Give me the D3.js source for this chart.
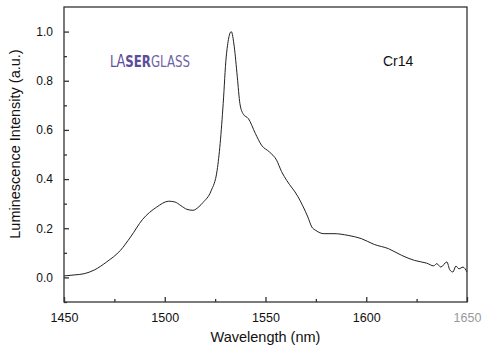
<!DOCTYPE html>
<html><head><meta charset="utf-8">
<script src="https://cdn.jsdelivr.net/npm/d3@7"></script>
<style>body{margin:0;background:#fff}</style>
</head><body>
<svg id="c" width="498" height="357"></svg>
<script>
const wavelength = [1450,1455,1460,1465,1471,1478,1483,1489,1496,1502,1505,1508,1511,1514,1517,1519,1523,1526,1527.5,1529,1530.5,1533,1534.5,1536,1537.3,1539,1541.5,1545,1548,1552,1555.5,1558,1560.5,1566,1571,1573,1575,1579,1584,1591,1597.5,1604,1611,1617.5,1624,1630,1633.5,1635,1637,1640,1641.5,1643,1644.5,1646,1648,1650];
const intensity = [0.006,0.010,0.015,0.030,0.062,0.110,0.164,0.236,0.286,0.310,0.307,0.292,0.277,0.273,0.288,0.305,0.352,0.436,0.545,0.707,0.897,1.000,0.938,0.816,0.707,0.664,0.646,0.585,0.538,0.510,0.477,0.430,0.395,0.330,0.246,0.205,0.191,0.178,0.178,0.171,0.158,0.134,0.117,0.090,0.069,0.058,0.047,0.056,0.042,0.063,0.030,0.022,0.046,0.035,0.042,0.022];
const xTicks = [1450,1500,1550,1600,1650];
const yTicks = [0.0,0.2,0.4,0.6,0.8,1.0];
const xMinor = [1475,1525,1575,1625];
const yMinor = [-0.1,0.1,0.3,0.5,0.7,0.9];

const svg = d3.select("#c");
const L=64,T=7,R=467,B=302;
const x = d3.scaleLinear().domain([1450,1650]).range([L,R]);
const y = d3.scaleLinear().domain([-0.1,1.1]).range([B,T]);
const font = "Arial, 'Liberation Sans', sans-serif";
const axc = "#333";

// data line
svg.append("path")
  .datum(wavelength.map((w,i)=>[w,intensity[i]]))
  .attr("fill","none").attr("stroke","#222").attr("stroke-width",1)
  .attr("d", d3.line().x(d=>x(d[0])).y(d=>y(d[1])).curve(d3.curveMonotoneX));

// frame
svg.append("rect").attr("x",L).attr("y",T).attr("width",R-L).attr("height",B-T)
  .attr("fill","none").attr("stroke",axc).attr("stroke-width",1.3);

// x axis
const gx = svg.append("g").attr("transform",`translate(0,${B})`)
  .call(d3.axisBottom(x).tickValues(xTicks).tickSizeInner(-5).tickSizeOuter(0).tickPadding(11).tickFormat(d3.format("d")));
gx.select(".domain").remove();
gx.selectAll("line").attr("stroke",axc).attr("stroke-width",1.3);
gx.selectAll("text").attr("font-family",font).attr("font-size",12.5)
  .attr("fill",d=>d===1650?"#999":"#111");
const gx2 = svg.append("g").attr("transform",`translate(0,${B})`)
  .call(d3.axisBottom(x).tickValues(xMinor).tickSizeInner(-3).tickSizeOuter(0).tickFormat(""));
gx2.select(".domain").remove();
gx2.selectAll("line").attr("stroke",axc).attr("stroke-width",1.3);

// y axis
const gy = svg.append("g").attr("transform",`translate(${L},0)`)
  .call(d3.axisLeft(y).tickValues(yTicks).tickSizeInner(-5).tickSizeOuter(0).tickPadding(11).tickFormat(d3.format(".1f")));
gy.select(".domain").remove();
gy.selectAll("line").attr("stroke",axc).attr("stroke-width",1.3);
gy.selectAll("text").attr("font-family",font).attr("font-size",12).attr("fill","#111");
const gy2 = svg.append("g").attr("transform",`translate(${L},0)`)
  .call(d3.axisLeft(y).tickValues(yMinor).tickSizeInner(-3).tickSizeOuter(0).tickFormat(""));
gy2.select(".domain").remove();
gy2.selectAll("line").attr("stroke",axc).attr("stroke-width",1.3);

// titles
svg.append("text").attr("x",265.5).attr("y",342).attr("text-anchor","middle")
  .attr("font-family",font).attr("font-size",14.5).attr("fill","#111").text("Wavelength (nm)");
svg.append("text").attr("transform","translate(20,144) rotate(-90)").attr("text-anchor","middle")
  .attr("font-family",font).attr("font-size",14.5).attr("fill","#111").text("Luminescence Intensity (a.u.)");

// annotations
svg.append("text").attr("x",383).attr("y",66).attr("font-family",font).attr("font-size",14).attr("fill","#111").text("Cr14");
const logoG = svg.append("g");
const logo = logoG.append("text").attr("x",0).attr("y",0)
  .attr("font-family","'DejaVu Sans Condensed','Liberation Sans Narrow',sans-serif").attr("font-size",16.5).attr("fill","#5b4d9b");
logo.append("tspan").attr("font-weight","300").text("L");
logo.append("tspan").attr("font-size",18).text("A");
logo.append("tspan").attr("font-weight","bold").text("SER");
logo.append("tspan").attr("fill","#6e63a8").text("GLASS");
const lw = logo.node().getComputedTextLength() || 90;
logoG.attr("transform",`translate(110,67) scale(${80/lw},1)`);
</script>
</body></html>
